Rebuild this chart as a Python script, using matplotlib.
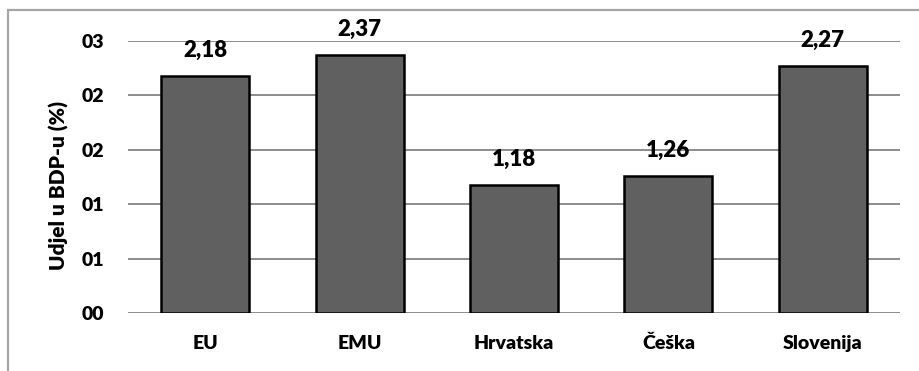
import matplotlib.pyplot as plt
from matplotlib.patches import Rectangle
from matplotlib.ticker import FuncFormatter
import numpy as np

plt.rcParams['font.family'] = ['Lato', 'DejaVu Sans']
plt.rcParams['font.weight'] = 'bold'

countries = ['EU', 'EMU', 'Hrvatska', 'Češka', 'Slovenija']
share = [2.18, 2.37, 1.18, 1.26, 2.27]
value_labels = ['2,18', '2,37', '1,18', '1,26', '2,27']

fig = plt.figure(figsize=(9.2, 3.71), dpi=100)
ax = fig.add_axes([0.1391, 0.1563, 0.8392, 0.7332])

# outer frame of the chart, open on the right and bottom
fig.patches.append(Rectangle((8 / 920, -0.1), 1.2, 0.1 + 361 / 371,
                             transform=fig.transFigure, fill=False,
                             edgecolor='#a6a6a6', linewidth=1.6, zorder=0))

x = np.arange(len(countries))
ax.bar(x, share, width=0.57, color='#606060', edgecolor='black',
       linewidth=1.8, zorder=3)

for xi, v, lab in zip(x, share, value_labels):
    ax.annotate(lab, (xi, v), xytext=(0, 18.5), textcoords='offset points',
                ha='center', va='center', fontsize=16, fontweight='heavy',
                zorder=4)

ax.set_xlim(-0.5, len(countries) - 0.5)
ax.set_ylim(0, 2.5)
ax.set_yticks(np.arange(0, 2.51, 0.5))
ax.yaxis.set_major_formatter(FuncFormatter(lambda v, p: f'{int(np.floor(v + 0.5)):02d}'))
ax.set_xticks(x)
ax.set_xticklabels(countries)

ax.grid(axis='y', color='#8c8c8c', linewidth=1.4, zorder=0)
ax.set_axisbelow(True)
for s in ax.spines.values():
    s.set_visible(False)
ax.tick_params(axis='both', length=0, labelsize=14)
ax.tick_params(axis='y', pad=17)
ax.tick_params(axis='x', pad=16)
for t in ax.get_xticklabels() + ax.get_yticklabels():
    t.set_fontweight('heavy')

# axis title placed in figure pixels, centred a little below the plot middle
fig.text(59 / 920, 1 - 185 / 371, 'Udjel u BDP-u (%)', rotation=90,
         ha='center', va='center', fontsize=15, fontweight='heavy')

fig.savefig('out.png', dpi=100)
